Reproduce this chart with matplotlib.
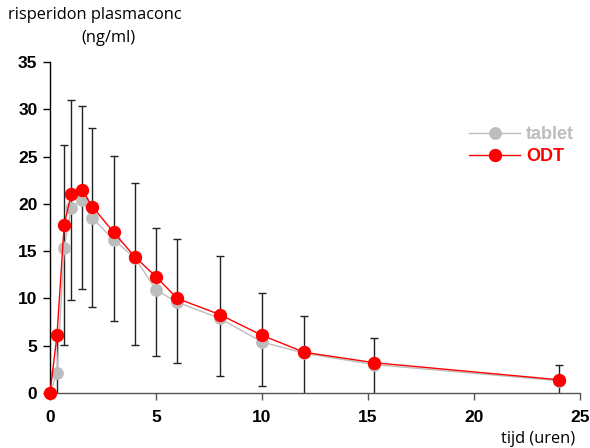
import numpy as np
import matplotlib
matplotlib.use("Agg")
import matplotlib.pyplot as plt

# time points (hours)
time_h = [0, 0.33, 0.67, 1, 1.5, 2, 3, 4, 5, 6, 8, 10, 12, 15.3, 24]
# mean plasma concentrations (ng/ml)
tablet = [0, 2.1, 15.3, 19.6, 20.4, 18.5, 16.2, 14.3, 10.9, 9.6, 7.9, 5.4, 4.2, 3.0, 1.3]
odt = [0, 6.1, 17.8, 21.0, 21.5, 19.7, 17.0, 14.4, 12.3, 10.0, 8.3, 6.1, 4.3, 3.2, 1.4]
# error bar ends (tablet)
bar_top = [np.nan, 5.9, 26.2, 31.0, 30.3, 28.0, 25.1, 22.2, 17.5, 16.3, 14.5, 10.6, 8.1, 5.8, 3.0]
bar_bottom = [np.nan, -1.7, 5.1, 9.8, 11.0, 9.1, 7.6, 5.1, 3.9, 3.2, 1.8, 0.7, -0.5, -0.5, -0.5]

x_ticks = [0, 5, 10, 15, 20, 25]
y_ticks = [0, 5, 10, 15, 20, 25, 30, 35]

W, H = 590, 448
fig = plt.figure(figsize=(W / 100, H / 100), dpi=100)
ax = fig.add_axes([50 / W, 1 - 393 / H, 530 / W, 331 / H])

t = np.array(time_h)
tab = np.array(tablet)
top = np.array(bar_top)
bot = np.array(bar_bottom)
yerr = np.vstack([tab - bot, top - tab])

ax.errorbar(t, tab, yerr=yerr, fmt="none", ecolor="#222222", elinewidth=1.0,
            capsize=2.6, capthick=1.0, zorder=1)
ax.plot(t, tab, color="#bdbdbd", lw=1.0, marker="o", ms=8.2,
        mfc="#bdbdbd", mec="#bdbdbd", zorder=2, clip_on=False, label="tablet")
ax.plot(t, odt, color="#ff0000", lw=1.0, marker="o", ms=8.6,
        mfc="#ff0000", mec="#ff0000", zorder=3, clip_on=False, label="ODT")

ax.set_xlim(0, 25)
ax.set_ylim(0, 35)
ax.set_xticks(x_ticks)
ax.set_yticks(y_ticks)

for s in ["top", "right"]:
    ax.spines[s].set_visible(False)
ax.spines["left"].set_color("black")
ax.spines["left"].set_linewidth(1.0)
ax.spines["bottom"].set_color("#555555")
ax.spines["bottom"].set_linewidth(1.0)
ax.tick_params(axis="y", direction="out", length=5, width=1, color="black", pad=4)
ax.tick_params(axis="x", direction="out", length=5, width=1, color="#555555", pad=7)
for lab in ax.get_xticklabels() + ax.get_yticklabels():
    lab.set_fontfamily("Liberation Sans")
    lab.set_fontweight("bold")
    lab.set_fontsize(12.5)

fig.text(8 / W, 1 - 15 / H, "risperidon plasmaconc", ha="left", va="center",
         fontsize=11.8, family="Open Sans")
fig.text(108 / W, 1 - 38 / H, "(ng/ml)", ha="center", va="center",
         fontsize=11.8, family="Open Sans")
fig.text(575 / W, 1 - 439 / H, "tijd (uren)", ha="right", va="center",
         fontsize=11.8, family="Open Sans")

leg = ax.legend(loc="upper left", bbox_to_anchor=(412 / 530, (393 - 119) / 331),
                frameon=False, handlelength=2.8, handletextpad=0.35,
                borderaxespad=0, labelspacing=0.28,
                prop={"family": "Liberation Sans", "weight": "bold", "size": 13})
for txt, c in zip(leg.get_texts(), ["#bdbdbd", "#ff0000"]):
    txt.set_color(c)

fig.savefig("out.png", dpi=100)
